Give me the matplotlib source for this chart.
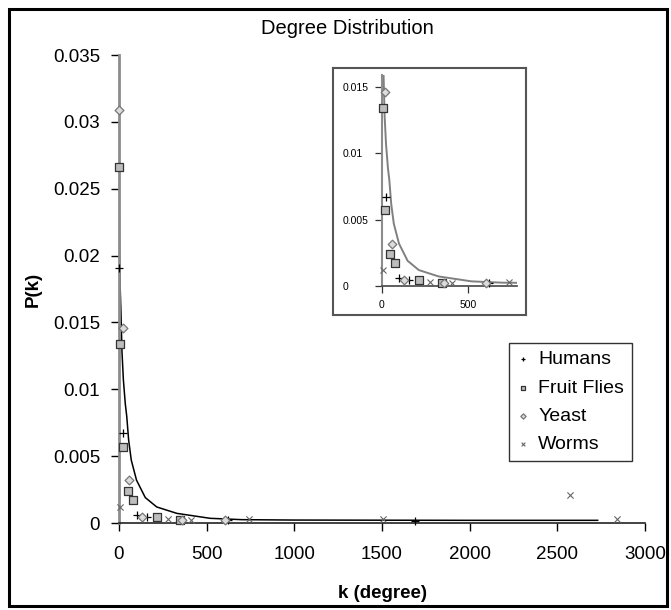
import matplotlib
matplotlib.use("Agg")
import matplotlib.pyplot as plt
from matplotlib.patches import Rectangle

plt.rcParams['font.family'] = ['Liberation Sans', 'DejaVu Sans']

# ---- data ----
humans_k = [2, 23, 102, 160, 620, 1690]
humans_p = [0.0191, 0.0067, 0.0006, 0.00045, 0.00022, 0.00015]

flies_k = [1, 8, 21, 50, 78, 214, 350]
flies_p = [0.0266, 0.0134, 0.0057, 0.0024, 0.00174, 0.00047, 0.0002]

yeast_k = [1, 21, 57, 132, 362, 605]
yeast_p = [0.0309, 0.0146, 0.0032, 0.00045, 0.0002, 0.0002]

worms_k = [7, 282, 410, 740, 1504, 2572, 2842]
worms_p = [0.0012, 0.00028, 0.00025, 0.0003, 0.00028, 0.00207, 0.00028]

# fitted trend line as it appears on the chart
fit_k = [1, 3, 7, 11, 17, 25, 36, 44, 55, 70, 100, 150, 215, 330, 520, 700,
         1000, 1500, 2000, 2730]
fit_p = [0.024, 0.020, 0.0175, 0.0158, 0.0128, 0.0107, 0.0089, 0.0080, 0.0062,
         0.0047, 0.0032, 0.0019, 0.0012, 0.00072, 0.00035, 0.00025, 0.00022,
         0.00021, 0.0002, 0.0002]

main_xticks = [0, 500, 1000, 1500, 2000, 2500, 3000]
main_yticks = [0, 0.005, 0.01, 0.015, 0.02, 0.025, 0.03, 0.035]
main_yticklabels = ['0', '0.005', '0.01', '0.015', '0.02', '0.025', '0.03', '0.035']
inset_xticks = [0, 500]
inset_yticks = [0, 0.005, 0.01, 0.015]
inset_yticklabels = ['0', '0.005', '0.01', '0.015']

W, H = 671, 610
fig = plt.figure(figsize=(W / 100, H / 100), dpi=100)

def fx(px):
    return px / W

def fy(py):
    return 1 - py / H

# ---- main axes ----
ax = fig.add_axes([fx(119), fy(523), (645 - 119) / W, (523 - 55) / H])
ax.set_xlim(0, 3000)
ax.set_ylim(0, 0.035)
for s in ['top', 'right']:
    ax.spines[s].set_visible(False)
ax.spines['left'].set_color('#8c8c8c')
ax.spines['left'].set_linewidth(2.0)
ax.spines['bottom'].set_color('#222222')
ax.spines['bottom'].set_linewidth(1.2)
ax.set_xticks(main_xticks)
ax.set_xticklabels([str(t) for t in main_xticks])
ax.set_yticks(main_yticks)
ax.set_yticklabels(main_yticklabels)
ax.tick_params(axis='both', direction='out', length=5.5, width=1.0, color='black',
               labelsize=13.5)
ax.tick_params(axis='y', pad=8)
ax.tick_params(axis='x', pad=11)
ax.set_ylabel('P(k)', fontsize=13.5, fontweight='bold', labelpad=8)
ax.set_xlabel('k (degree)', fontsize=13.5, fontweight='bold', labelpad=16)

def draw_series(a, scale=1.0, clip=False, clip_patch=None):
    arts = []
    arts.append(a.scatter(humans_k, humans_p, marker='+', s=30 * scale, c='black', lw=0.9,
                          label='Humans', zorder=3, clip_on=clip))
    arts.append(a.scatter(flies_k, flies_p, marker='s', s=30 * scale, facecolor='#bdbdbd',
                          edgecolor='#333333', lw=0.9, label='Fruit Flies', zorder=3,
                          clip_on=clip))
    arts.append(a.scatter(yeast_k, yeast_p, marker='D', s=20 * scale, facecolor='#dcdcdc',
                          edgecolor='#777777', lw=0.9, label='Yeast', zorder=3,
                          clip_on=clip))
    arts.append(a.scatter(worms_k, worms_p, marker='x', s=20 * scale, c='#666666', lw=0.8,
                          label='Worms', zorder=3, clip_on=clip))
    if clip_patch is not None:
        for art in arts:
            art.set_clip_path(clip_patch)
    return arts

ax.plot(fit_k, fit_p, color='black', lw=1.1, zorder=2)
draw_series(ax)

leg = ax.legend(loc='upper left', bbox_to_anchor=(fx(509), fy(343)),
                bbox_transform=fig.transFigure, fontsize=14, frameon=True,
                fancybox=False, edgecolor='black', markerscale=0.6,
                handlelength=0.6, handletextpad=0.5, labelspacing=0.55,
                borderpad=0.4, borderaxespad=0)
leg.get_frame().set_linewidth(1.0)

fig.text(fx(347), fy(28), 'Degree Distribution', ha='center', va='center',
         fontsize=14.5)

# ---- inset ----
frame = fig.add_axes([fx(333), fy(315), (526 - 333) / W, (315 - 68) / H])
frame.set_xticks([])
frame.set_yticks([])
frame.set_facecolor('white')
for s in frame.spines.values():
    s.set_color('#555555')
    s.set_linewidth(1.5)
frame.set_zorder(5)

ins = fig.add_axes([fx(381.7), fy(286), (516.7 - 381.7) / W, (286 - 75) / H])
ins.set_zorder(6)
ins.patch.set_alpha(0)
ins.set_xlim(0, 782)
ins.set_ylim(0, 0.0159)
for s in ['top', 'right']:
    ins.spines[s].set_visible(False)
ins.spines['left'].set_color('#8c8c8c')
ins.spines['left'].set_linewidth(1.5)
ins.spines['bottom'].set_color('#444444')
ins.spines['bottom'].set_linewidth(1.2)
ins.set_xticks(inset_xticks)
ins.set_xticklabels([str(t) for t in inset_xticks])
ins.set_yticks(inset_yticks)
ins.set_yticklabels(inset_yticklabels)
ins.tick_params(axis='both', direction='out', length=5, width=0.9, color='#333333',
                labelsize=7.5)
ins.tick_params(axis='y', pad=23)
ins.tick_params(axis='x', pad=5)
for lab in ins.get_yticklabels():
    lab.set_horizontalalignment('left')
ins.plot(fit_k, fit_p, color='#808080', lw=1.4, zorder=2, clip_on=True)

# clip inset markers to the inset's data area (slightly enlarged for edge markers)
clip_rect = Rectangle((-30, -0.0004), 782 + 30, 0.0159 + 0.0004,
                      transform=ins.transData, fill=False)
draw_series(ins, scale=0.95, clip=True, clip_patch=clip_rect)

# ---- outer figure frame ----
fig.patches.append(Rectangle((fx(9), fy(606)), (667 - 9) / W, (606 - 9) / H,
                             transform=fig.transFigure, fill=False,
                             edgecolor='black', lw=2.2))

fig.savefig('out.png', dpi=100)
